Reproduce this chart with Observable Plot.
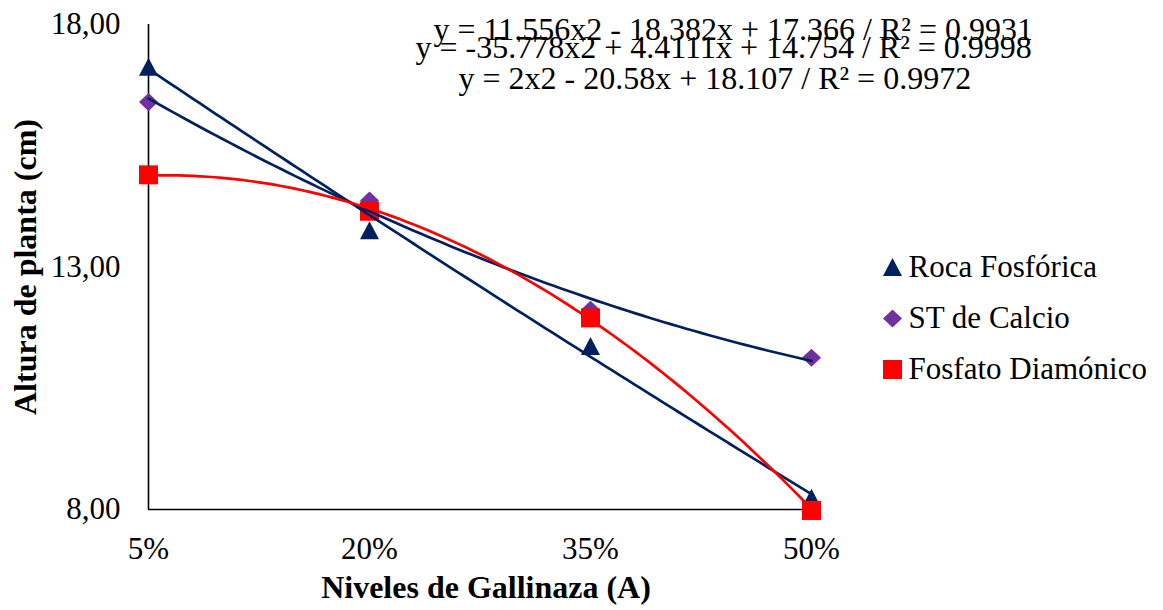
<!DOCTYPE html>
<html>
<head>
<meta charset="utf-8">
<script src="https://cdn.jsdelivr.net/npm/d3@7"></script>
<script src="https://cdn.jsdelivr.net/npm/@observablehq/plot@0.6"></script>
<style>
  html, body { margin: 0; padding: 0; background: #fff; }
  #chart { width: 1163px; height: 610px; }
</style>
</head>
<body>
<div id="chart"></div>
<script>
// ---- data ----
const levels = [0.05, 0.20, 0.35, 0.50];
const levelLabels = ["5%", "20%", "35%", "50%"];
const yTicks = [8, 13, 18];

const seriesNames = ["Roca Fosfórica", "ST de Calcio", "Fosfato Diamónico"];
const rocaFosforica = [17.12, 13.75, 11.36, 8.23];
const stCalcio = [16.40, 14.37, 12.12, 11.13];
const fosfatoDiamonico = [14.90, 14.15, 11.95, 7.98];

// polynomial (order 2) trendline coefficients [a, b, c] from the chart's equations
const trendRoca = [2, -20.58, 18.107];
const trendCalcio = [11.556, -18.382, 17.366];
const trendFosfato = [-35.778, 4.4111, 14.754];

const equationLabels = [
  "y = 11.556x2 - 18.382x + 17.366 / R² = 0.9931",
  "y = -35.778x2 + 4.4111x + 14.754 / R² = 0.9998",
  "y = 2x2 - 20.58x + 18.107 / R² = 0.9972"
];

// ---- styles ----
const NAVY = "#002060", PURPLE = "#7030A0", RED = "#FF0000";
const FONT = "'Liberation Serif', 'Times New Roman', serif";

const triangleSym = { draw(ctx, size) { const r = Math.sqrt(size / Math.PI); ctx.moveTo(0, -r); ctx.lineTo(r, r * 0.9); ctx.lineTo(-r, r * 0.9); ctx.closePath(); } };
const squareSym = { draw(ctx, size) { const r = Math.sqrt(size / Math.PI); ctx.rect(-r, -r, 2 * r, 2 * r); } };
const diamondSym = { draw(ctx, size) { const r = Math.sqrt(size / Math.PI); ctx.moveTo(0, -r * 0.95); ctx.lineTo(r, 0); ctx.lineTo(0, r * 0.95); ctx.lineTo(-r, 0); ctx.closePath(); } };

const series = [
  { name: seriesNames[0], values: rocaFosforica, coef: trendRoca, sym: triangleSym, fill: NAVY, line: NAVY },
  { name: seriesNames[1], values: stCalcio, coef: trendCalcio, sym: diamondSym, fill: PURPLE, line: NAVY },
  { name: seriesNames[2], values: fosfatoDiamonico, coef: trendFosfato, sym: squareSym, fill: RED, line: RED }
];

const points = s => levels.map((x, i) => ({ x, y: s.values[i] }));
const trendPts = s => d3.range(0, 91).map(k => {
  const x = levels[0] + k * (levels[3] - levels[0]) / 90;
  return { x, y: s.coef[0] * x * x + s.coef[1] * x + s.coef[2] };
});

const fmtY = d => d3.format(".2f")(d).replace(".", ",");

const marks = [];
// axes lines
marks.push(Plot.ruleX([levels[0]], { y1: 8, y2: 18, stroke: "#000", strokeWidth: 1.6 }));
marks.push(Plot.ruleY([8], { x1: levels[0], x2: levels[3], stroke: "#000", strokeWidth: 1.6 }));
marks.push(Plot.axisY(yTicks, { tickSize: 0, tickPadding: 28, tickFormat: fmtY, fontSize: 31, label: null }));
marks.push(Plot.axisX(levels, { tickSize: 0, tickPadding: 27, tickFormat: (d, i) => levelLabels[i], fontSize: 31, label: null }));

// markers
series.forEach(s => marks.push(Plot.dot(points(s), { x: "x", y: "y", symbol: s.sym, r: 9.5, fill: s.fill, stroke: "none" })));
// trendlines
series.forEach(s => marks.push(Plot.line(trendPts(s), { x: "x", y: "y", stroke: s.line, strokeWidth: 2.7, curve: "linear" })));

// equations
const eqX = [433 - 148, 415 - 148, 458 - 148];
const eqBase = [39 - 24, 57 - 24, 88 - 24];
equationLabels.forEach((t, i) => marks.push(Plot.text([t], {
  frameAnchor: "top-left", dx: eqX[i], dy: eqBase[i], textAnchor: "start", lineAnchor: "bottom",
  fontSize: 32, fill: "#000"
})));

// legend
series.forEach((s, i) => {
  const dy = 243 + i * 51;
  marks.push(Plot.dot([0], { frameAnchor: "top-right", dx: 81, dy, symbol: s.sym, r: 9.5, fill: s.fill, stroke: "none" }));
  marks.push(Plot.text([s.name], { frameAnchor: "top-right", dx: 97, dy, textAnchor: "start", lineAnchor: "middle", fontSize: 31, fill: "#000" }));
});

// axis titles
marks.push(Plot.text(["Niveles de Gallinaza (A)"], { frameAnchor: "bottom", dx: 6, dy: 88, textAnchor: "middle", lineAnchor: "bottom", fontSize: 32, fontWeight: "bold", fill: "#000" }));
marks.push(Plot.text(["Altura de planta (cm)"], { frameAnchor: "left", dx: -113, rotate: -90, textAnchor: "middle", lineAnchor: "bottom", fontSize: 32, fontWeight: "bold", fill: "#000" }));

const chart = Plot.plot({
  width: 1163,
  height: 610,
  marginLeft: 148,
  marginRight: 352,
  marginTop: 24,
  marginBottom: 101,
  x: { type: "linear", domain: [levels[0], levels[3]] },
  y: { type: "linear", domain: [8, 18] },
  style: { fontFamily: FONT, color: "#000", background: "#fff", overflow: "visible" },
  marks
});
document.getElementById("chart").appendChild(chart);
</script>
</body>
</html>
